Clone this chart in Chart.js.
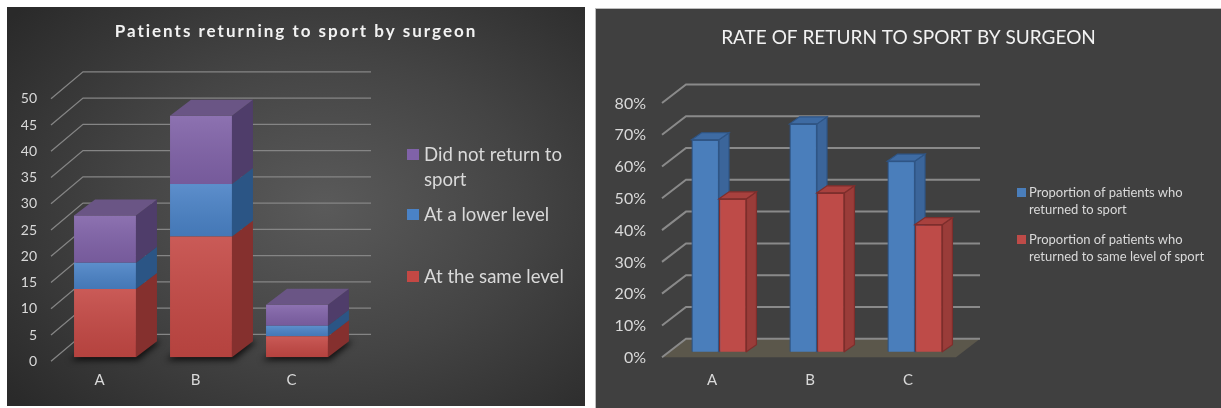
<!DOCTYPE html>
<html>
<head>
<meta charset="utf-8">
<script src="https://cdn.jsdelivr.net/npm/chart.js@4.4.0/dist/chart.umd.min.js"></script>
<style>
  body { margin: 0; background: #fff; width: 1221px; height: 408px; position: relative; overflow: hidden; font-family: Lato, sans-serif; }
  .panel { position: absolute; }
  #leftPanel { left: 7px; top: 7px; width: 578px; height: 399px;
    background: radial-gradient(ellipse 70% 75% at 55% 50%, #5a5a5a 0%, #444 50%, #2a2a2a 100%); }
  #rightPanel { left: 595px; top: 8px; width: 626px; height: 400px; background: #404040;
    border-left: 1px solid #bdbdbd; border-top: 1px solid #bdbdbd; box-sizing: border-box; }
  .legend { position: absolute; color: #d9d9d9; }
  .item { display: flex; align-items: flex-start; }
  .box { flex: none; }
  #leftLegend { left: 400px; top: 135px; font-size: 18.6px; line-height: 25px; }
  #leftLegend .box { width: 12px; height: 11px; margin: 7px 5px 0 0; }
  #leftLegend .txt { width: 155px; }
  #leftLegend .item:nth-child(2) { margin-top: 10px; }
  #leftLegend .item:nth-child(3) { margin-top: 37px; }
  #rightLegend { left: 421px; top: 175px; font-size: 13px; line-height: 17px; }
  #rightLegend .box { width: 9px; height: 9px; margin: 4px 3px 0 0; }
  #rightLegend .txt { width: 185px; }
  #rightLegend .item:nth-child(2) { margin-top: 13px; }
</style>
</head>
<body>
<div class="panel" id="leftPanel">
  <canvas id="countChart"></canvas>
  <div class="legend" id="leftLegend"></div>
</div>
<div class="panel" id="rightPanel">
  <canvas id="rateChart"></canvas>
  <div class="legend" id="rightLegend"></div>
</div>
<script>
// surgeons on the x axis
const surgeons = ['A', 'B', 'C'];

// left chart: number of patients
const sameLevel = [13, 23, 4];
const lowerLevel = [5, 10, 2];
const didNotReturn = [9, 13, 4];

// right chart: proportions (%)
const returnedRate = [66.7, 71.7, 60];
const sameLevelRate = [48.1, 50, 40];

const FONT = 'Lato, sans-serif';
const TXT = '#d9d9d9';

function poly(ctx, pts, fill, stroke, lw) {
  ctx.beginPath();
  ctx.moveTo(pts[0], pts[1]);
  for (let i = 2; i < pts.length; i += 2) ctx.lineTo(pts[i], pts[i + 1]);
  ctx.closePath();
  if (fill) { ctx.fillStyle = fill; ctx.fill(); }
  if (stroke) { ctx.strokeStyle = stroke; ctx.lineWidth = lw; ctx.stroke(); }
}

// fake 3D: floor, wall grid and bar sides, all from the chart's own scales
const depth3d = {
  id: 'depth3d',
  beforeDatasetsDraw(chart, args, o) {
    const { ctx, chartArea: a, scales: { y } } = chart;
    const [fx, fy] = o.front, [bx, by] = o.back;
    ctx.save();
    if (o.floor) {
      poly(ctx, [a.left + fx, a.bottom + fy, a.right + fx, a.bottom + fy,
        a.right + bx, a.bottom + by, a.left + bx, a.bottom + by], o.floor);
    }
    if (o.shadow) {
      const [dx, dy] = o.bar;
      ctx.filter = 'blur(3px)';
      chart.getDatasetMeta(0).data.forEach(el => {
        const { x, base, width } = el.getProps(['x', 'base', 'width'], true);
        const l = x - width / 2, r = x + width / 2;
        poly(ctx, [l - 4, base + 3, r + 2, base + 3, r + dx + 4, base + dy, l + dx, base + dy], 'rgba(0,0,0,0.75)');
      });
      ctx.filter = 'none';
    }
    ctx.strokeStyle = o.grid;
    ctx.lineWidth = o.gridWidth;
    y.ticks.forEach(t => {
      const py = y.getPixelForValue(t.value);
      ctx.beginPath();
      ctx.moveTo(a.left + fx, py + fy);
      ctx.lineTo(a.left + bx, py + by);
      ctx.lineTo(a.right + bx, py + by);
      ctx.stroke();
    });
    ctx.restore();
  },
  afterDatasetsDraw(chart, args, o) {
    const ctx = chart.ctx;
    const [dx, dy] = o.bar;
    const n = chart.data.labels.length;
    const sets = chart.data.datasets;
    ctx.save();
    for (let j = 0; j < n; j++) {
      sets.forEach((ds, i) => {
        const el = chart.getDatasetMeta(i).data[j];
        const { x, y, base, width } = el.getProps(['x', 'y', 'base', 'width'], true);
        const l = x - width / 2, r = x + width / 2;
        const lw = ds.borderWidth || 0;
        poly(ctx, [r, y, r + dx, y + dy, r + dx, base + dy, r, base], ds.sideColor, lw ? ds.borderColor : null, lw);
        if (!o.stacked || i === sets.length - 1) {
          poly(ctx, [l, y, l + dx, y + dy, r + dx, y + dy, r, y], ds.topColor, lw ? ds.borderColor : null, lw);
        }
        if (o.stacked) {
          const g = ctx.createLinearGradient(0, y, 0, base);
          g.addColorStop(0, 'rgba(255,255,255,0.10)');
          g.addColorStop(1, 'rgba(0,0,0,0.08)');
          ctx.fillStyle = g;
          ctx.fillRect(l, y, width, base - y);
        } else {
          el.draw(ctx);
        }
      });
    }
    ctx.restore();
  }
};

// letter-spaced title
const spacedTitle = {
  id: 'spacedTitle',
  beforeDraw(chart, args, o) {
    const tb = chart.titleBlock;
    if (tb && !tb._spaced) {
      const orig = tb.draw.bind(tb);
      tb.draw = function () {
        chart.ctx.save();
        chart.ctx.letterSpacing = o.spacing;
        orig();
        chart.ctx.restore();
      };
      tb._spaced = true;
    }
  }
};

// empty axis on the right that only keeps room for the html legend
const legendRoom = w => ({
  position: 'right', display: true,
  grid: { display: false, drawTicks: false }, border: { display: false },
  ticks: { display: false },
  afterFit: s => { s.width = w; }
});

function buildLegend(id, items) {
  const el = document.getElementById(id);
  items.forEach(it => {
    const d = document.createElement('div');
    d.className = 'item';
    d.innerHTML = '<span class="box" style="background:' + it.color + '"></span><span class="txt">' + it.text + '</span>';
    el.appendChild(d);
  });
}

const countChart = new Chart(document.getElementById('countChart'), {
  type: 'bar',
  data: {
    labels: surgeons,
    datasets: [
      { label: 'At the same level', data: sameLevel, backgroundColor: '#c44844', sideColor: '#85302e', topColor: '#a54240' },
      { label: 'At a lower level', data: lowerLevel, backgroundColor: '#4a82c6', sideColor: '#2b5585', topColor: '#3d6da8' },
      { label: 'Did not return to sport', data: didNotReturn, backgroundColor: '#8062a8', sideColor: '#4f3d6a', topColor: '#6a5585' }
    ]
  },
  options: {
    responsive: true,
    maintainAspectRatio: false,
    animation: false,
    categoryPercentage: 0.645,
    barPercentage: 1,
    layout: { padding: 0 },
    plugins: {
      legend: { display: false },
      tooltip: { enabled: false },
      title: {
        display: true, text: 'Patients returning to sport by surgeon', color: '#f2f2f2',
        font: { family: FONT, size: 17, weight: 'bold' }, padding: { top: 14.8, bottom: 52.6 }
      },
      spacedTitle: { spacing: '2px' },
      depth3d: { front: [-6, 4], back: [26, -23], bar: [21, -16], grid: '#858585', gridWidth: 1.3, stacked: true, shadow: true }
    },
    scales: {
      x: {
        stacked: true,
        grid: { display: false, drawTicks: false }, border: { display: false },
        ticks: { color: TXT, font: { family: FONT, size: 15 }, padding: 13.7, labelOffset: -5.5 },
        afterFit: s => { s.height = 48.7; }
      },
      y: {
        stacked: true, min: 0, max: 50,
        grid: { display: false, drawTicks: false }, border: { display: false },
        ticks: { stepSize: 5, color: TXT, font: { family: FONT, size: 14 }, padding: 20, labelOffset: 4 },
        afterFit: s => { s.width = 50; }
      },
      room: legendRoom(240)
    }
  },
  plugins: [depth3d, spacedTitle]
});

const rateChart = new Chart(document.getElementById('rateChart'), {
  type: 'bar',
  data: {
    labels: surgeons,
    datasets: [
      { label: 'Proportion of patients who returned to sport', data: returnedRate,
        backgroundColor: '#4a7ebb', borderColor: '#2f5585', borderWidth: 1.2, sideColor: '#3b659a', topColor: '#3e6ba3' },
      { label: 'Proportion of patients who returned to same level of sport', data: sameLevelRate,
        backgroundColor: '#be4b48', borderColor: '#7e2e2c', borderWidth: 1.2, sideColor: '#9a3c39', topColor: '#a8413e' }
    ]
  },
  options: {
    responsive: true,
    maintainAspectRatio: false,
    animation: false,
    categoryPercentage: 0.56,
    barPercentage: 1,
    layout: { padding: 0 },
    plugins: {
      legend: { display: false },
      tooltip: { enabled: false },
      title: {
        display: true, text: 'RATE OF RETURN TO SPORT BY SURGEON', color: '#f2f2f2',
        font: { family: FONT, size: 19, weight: 'normal' }, padding: { top: 17.9, bottom: 47.8 }
      },
      depth3d: { front: [-8, 5.5], back: [16, -13], bar: [10, -7], grid: '#8a8a8a', gridWidth: 2, floor: '#5b574b' }
    },
    scales: {
      x: {
        grid: { display: false, drawTicks: false }, border: { display: false },
        ticks: { color: TXT, font: { family: FONT, size: 15 }, padding: 19.3, labelOffset: -7 },
        afterFit: s => { s.height = 56.3; }
      },
      y: {
        min: 0, max: 80,
        grid: { display: false, drawTicks: false }, border: { display: false },
        ticks: { stepSize: 10, color: TXT, font: { family: FONT, size: 16 }, padding: 24, labelOffset: 6,
          callback: v => v + '%' },
        afterFit: s => { s.width = 74; }
      },
      room: legendRoom(257)
    }
  },
  plugins: [depth3d]
});

buildLegend('leftLegend', countChart.data.datasets.slice().reverse().map(d => ({ text: d.label, color: d.backgroundColor })));
buildLegend('rightLegend', rateChart.data.datasets.map(d => ({ text: d.label, color: d.backgroundColor })));
</script>
</body>
</html>
